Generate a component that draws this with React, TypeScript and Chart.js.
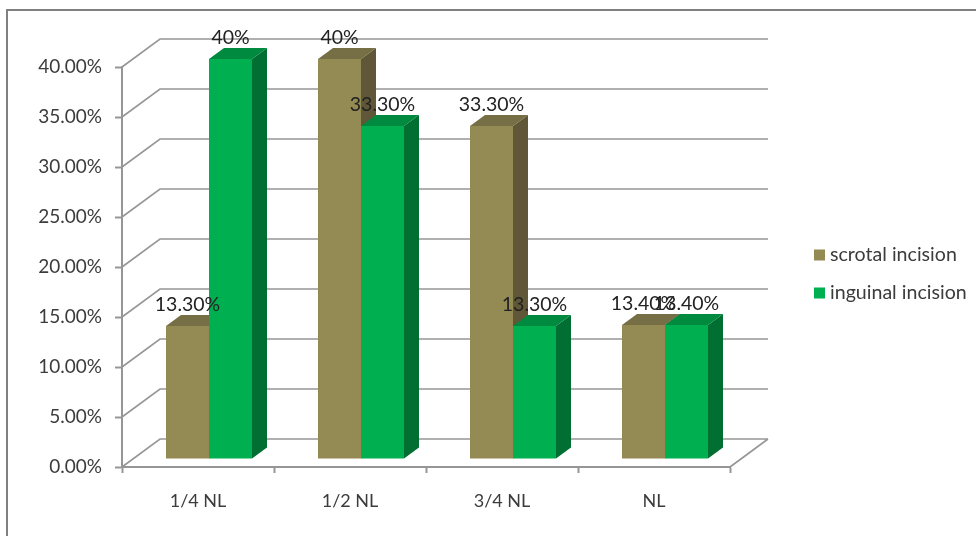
import React, { useEffect, useRef } from "react";
import { Chart, registerables } from "chart.js";

Chart.register(...registerables);

const categories = ["1/4 NL", "1/2 NL", "3/4 NL", "NL"];
const scrotalValues = [13.3, 40, 33.3, 13.4];
const inguinalValues = [40, 33.3, 13.3, 13.4];
const scrotalLabels = ["13.30%", "40%", "33.30%", "13.40%"];
const inguinalLabels = ["40%", "33.30%", "13.30%", "13.40%"];

const FONT = "Lato, Carlito, sans-serif";
const AXIS_GREY = "#969696";
const TEXT_GREY = "#3c3c3c";

// Bars stand inside the box: their fronts sit part-way between the front plane and the back wall.
const BAR_SHIFT = { x: 11, y: -8 };
const BAR_DEPTH = { x: 15, y: -11 };
const WALL_DEPTH = { x: 38, y: -28 };

const LEGEND_POS = { x: 814, y: 255, rowGap: 38, box: 11, textGap: 5 };

const faceColours = [
  { side: "#5f5737", top: "#766e44" },
  { side: "#006f31", top: "#008a3f" },
];

const box3d = {
  id: "box3d",
  beforeDraw(chart: any) {
    const { ctx, width, height } = chart;
    ctx.save();
    ctx.fillStyle = "#fff";
    ctx.fillRect(0, 0, width, height);
    ctx.strokeStyle = "#808080";
    ctx.lineWidth = 2;
    ctx.beginPath();
    ctx.moveTo(7, height + 2);
    ctx.lineTo(7, 10);
    ctx.lineTo(width + 2, 10);
    ctx.stroke();
    ctx.restore();
  },
  beforeDatasetsDraw(chart: any) {
    const { ctx, chartArea, scales } = chart;
    const { left, right, bottom } = chartArea;

    // Side wall and back wall rules, one for each value tick
    ctx.save();
    ctx.strokeStyle = AXIS_GREY;
    ctx.lineWidth = 1.6;
    ctx.beginPath();
    for (const tick of scales.y.ticks) {
      const y = scales.y.getPixelForValue(tick.value);
      ctx.moveTo(left, y);
      ctx.lineTo(left + WALL_DEPTH.x, y + WALL_DEPTH.y);
      ctx.lineTo(right + WALL_DEPTH.x, y + WALL_DEPTH.y);
    }
    ctx.moveTo(right, bottom);
    ctx.lineTo(right + WALL_DEPTH.x, bottom + WALL_DEPTH.y);
    ctx.stroke();
    ctx.restore();

    // Shift every bar into the box, and draw the side and top faces behind the fronts
    ctx.save();
    ctx.translate(BAR_SHIFT.x, BAR_SHIFT.y);
    chart.data.datasets.forEach((_: any, i: number) => {
      const colours = faceColours[i];
      chart.getDatasetMeta(i).data.forEach((bar: any) => {
        const l = bar.x - bar.width / 2;
        const r = bar.x + bar.width / 2;
        ctx.fillStyle = colours.side;
        ctx.beginPath();
        ctx.moveTo(r, bar.y);
        ctx.lineTo(r + BAR_DEPTH.x, bar.y + BAR_DEPTH.y);
        ctx.lineTo(r + BAR_DEPTH.x, bar.base + BAR_DEPTH.y);
        ctx.lineTo(r, bar.base);
        ctx.closePath();
        ctx.fill();
        ctx.fillStyle = colours.top;
        ctx.beginPath();
        ctx.moveTo(l, bar.y);
        ctx.lineTo(l + BAR_DEPTH.x, bar.y + BAR_DEPTH.y);
        ctx.lineTo(r + BAR_DEPTH.x, bar.y + BAR_DEPTH.y);
        ctx.lineTo(r, bar.y);
        ctx.closePath();
        ctx.fill();
      });
    });
  },
  afterDatasetsDraw(chart: any) {
    const { ctx } = chart;
    ctx.restore();

    // Value labels float just above each bar
    ctx.save();
    ctx.font = `19.5px ${FONT}`;
    ctx.fillStyle = "#222";
    ctx.textAlign = "center";
    ctx.textBaseline = "middle";
    chart.data.datasets.forEach((ds: any, i: number) => {
      chart.getDatasetMeta(i).data.forEach((bar: any, j: number) => {
        ctx.fillText(ds.valueLabels[j], bar.x + BAR_SHIFT.x, bar.y + BAR_SHIFT.y - 21);
      });
    });
    ctx.restore();
  },
  afterDraw(chart: any) {
    // Series key in the right-hand margin, with a tight gap between swatch and text
    const { ctx } = chart;
    const { x, y, rowGap, box, textGap } = LEGEND_POS;
    ctx.save();
    ctx.font = `19.6px ${FONT}`;
    ctx.textAlign = "left";
    ctx.textBaseline = "middle";
    chart.data.datasets.forEach((ds: any, i: number) => {
      const rowY = y + i * rowGap;
      ctx.fillStyle = ds.backgroundColor;
      ctx.fillRect(x, rowY - box / 2, box, box);
      ctx.fillStyle = TEXT_GREY;
      ctx.fillText(ds.label, x + box + textGap, rowY);
    });
    ctx.restore();
  },
};

export default function App() {
  const ref = useRef<HTMLCanvasElement>(null);

  useEffect(() => {
    const chart = new Chart(ref.current!, {
      type: "bar",
      data: {
        labels: categories,
        datasets: [
          {
            label: "scrotal incision",
            data: scrotalValues,
            valueLabels: scrotalLabels,
            backgroundColor: "#948a54",
            categoryPercentage: 86 / 152,
            barPercentage: 1,
          },
          {
            label: "inguinal incision",
            data: inguinalValues,
            valueLabels: inguinalLabels,
            backgroundColor: "#00b050",
            categoryPercentage: 86 / 152,
            barPercentage: 1,
          },
        ] as any,
      },
      options: {
        responsive: false,
        animation: false,
        layout: { padding: { left: 8, top: 67, right: 246, bottom: 0 } },
        plugins: {
          tooltip: { enabled: false },
          legend: { display: false },
        },
        scales: {
          x: {
            grid: {
              drawOnChartArea: false,
              drawTicks: true,
              tickLength: 6,
              tickColor: AXIS_GREY,
              tickWidth: 2,
            },
            border: { color: AXIS_GREY, width: 2 },
            ticks: {
              color: TEXT_GREY,
              font: { family: FONT, size: 18 },
              padding: 17,
              maxRotation: 0,
            },
            afterFit: (s: any) => {
              s.height = 69;
            },
          },
          y: {
            min: 0,
            max: 40,
            grid: {
              drawOnChartArea: false,
              drawTicks: true,
              tickLength: 7,
              tickColor: AXIS_GREY,
              tickWidth: 2,
            },
            border: { color: AXIS_GREY, width: 2 },
            ticks: {
              stepSize: 5,
              color: TEXT_GREY,
              font: { family: FONT, size: 19 },
              padding: 13,
              callback: (v: any) => `${Number(v).toFixed(2)}%`,
            },
            afterFit: (s: any) => {
              s.width = 114;
            },
          },
        },
      },
      plugins: [box3d],
    } as any);
    return () => chart.destroy();
  }, []);

  return (
    <div style={{ position: "fixed", left: 0, top: 0, width: 976, height: 536, overflow: "hidden" }}>
      <canvas ref={ref} width={976} height={536} style={{ display: "block" }} />
    </div>
  );
}
